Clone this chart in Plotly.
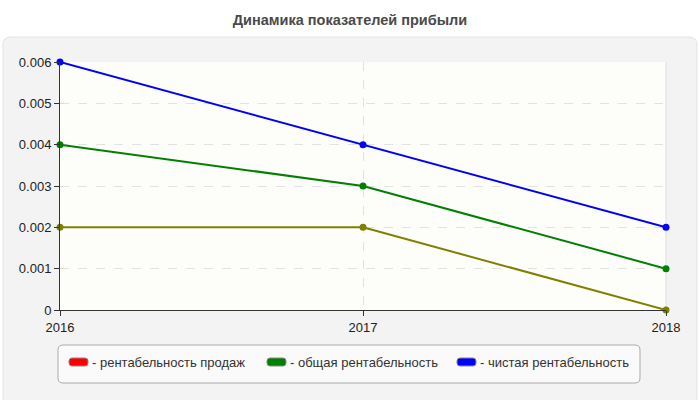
import plotly.graph_objects as go

# Динамика показателей прибыли
years = [2016, 2017, 2018]
sales_profit = [0.002, 0.002, 0.0]      # рентабельность продаж
total_profit = [0.004, 0.003, 0.001]    # общая рентабельность
net_profit = [0.006, 0.004, 0.002]      # чистая рентабельность

names = ['- рентабельность продаж', '- общая рентабельность', '- чистая рентабельность']
line_colors = ['#808000', '#008000', '#0000ff']
legend_colors = ['#ff0000', '#008000', '#0000ff']

fig = go.Figure()
for vals, col, nm in zip([sales_profit, total_profit, net_profit], line_colors, names):
    fig.add_trace(go.Scatter(x=years, y=vals, mode='lines+markers', name=nm,
                             line=dict(color=col, width=2),
                             marker=dict(color=col, size=7),
                             showlegend=False, cliponaxis=False))

# pixel -> paper helpers (plot area 60..666 x 62..310)
W, H = 606, 248
def px(x):
    return (x - 60) / W
def py(y):
    return (310 - y) / H

def rounded(x0, y0, x1, y1, r):
    return (f"M {px(x0+r)},{py(y0)} L {px(x1-r)},{py(y0)} Q {px(x1)},{py(y0)} {px(x1)},{py(y0+r)} "
            f"L {px(x1)},{py(y1-r)} Q {px(x1)},{py(y1)} {px(x1-r)},{py(y1)} "
            f"L {px(x0+r)},{py(y1)} Q {px(x0)},{py(y1)} {px(x0)},{py(y1-r)} "
            f"L {px(x0)},{py(y0+r)} Q {px(x0)},{py(y0)} {px(x0+r)},{py(y0)} Z")

# grey rounded panel behind the chart
fig.add_shape(type='path', path=rounded(3, 37, 697, 412, 8), xref='paper', yref='paper',
              layer='below', fillcolor='#f3f3f3', line=dict(color='#e4e4e4', width=1))
fig.add_shape(type='rect', xref='paper', yref='paper', x0=0, x1=1, y0=0, y1=1,
              layer='below', fillcolor='#fdfdf9', line=dict(width=0))
fig.add_shape(type='line', xref='paper', yref='paper', x0=1, x1=1, y0=0, y1=1,
              layer='below', line=dict(color='#dddddd', width=1))

# legend box drawn by hand (sales line is olive but listed red)
fig.add_shape(type='path', path=rounded(58, 345, 640, 383, 5), xref='paper', yref='paper',
              fillcolor='#fafafa', line=dict(color='#aaaaaa', width=1))
sw_x = [69, 267, 457]
for sx, col, nm in zip(sw_x, legend_colors, names):
    fig.add_shape(type='path', path=rounded(sx, 358, sx + 19, 366, 3), xref='paper', yref='paper',
                  fillcolor=col, line=dict(color='#888888', width=1))
    fig.add_annotation(text=nm, xref='paper', yref='paper', x=px(sx + 21), y=py(362),
                       xanchor='left', yanchor='middle', showarrow=False,
                       font=dict(size=13, color='#333'))

fig.update_layout(
    width=700, height=400,
    margin=dict(l=60, r=34, t=62, b=90),
    paper_bgcolor='white', plot_bgcolor='rgba(0,0,0,0)',
    font=dict(family='Liberation Sans, Arial, sans-serif', size=13, color='#222'),
    title=dict(text='<b>Динамика показателей прибыли</b>', x=0.5, xref='container', y=0.95,
               xanchor='center', yanchor='middle',
               font=dict(size=14.5, color='#4a4a4a')),
    showlegend=False,
    xaxis=dict(range=[2016, 2018], tickvals=years, ticktext=[str(y) for y in years],
               showline=True, linecolor='#333', linewidth=1, ticks='outside',
               ticklen=5, tickcolor='#333', showgrid=True, gridcolor='#e2e2e2',
               griddash='dash', zeroline=False, fixedrange=True),
    yaxis=dict(range=[0, 0.006], tickvals=[0, 0.001, 0.002, 0.003, 0.004, 0.005, 0.006],
               ticktext=['0', '0.001', '0.002', '0.003', '0.004', '0.005', '0.006'],
               showline=True, linecolor='#333', linewidth=1, ticks='outside',
               ticklen=5, tickcolor='#333', showgrid=True, gridcolor='#e2e2e2',
               griddash='dash', zeroline=False),
)

fig.write_html("out.html", config={'displayModeBar': False},
               post_script="document.body.style.margin='0';")
